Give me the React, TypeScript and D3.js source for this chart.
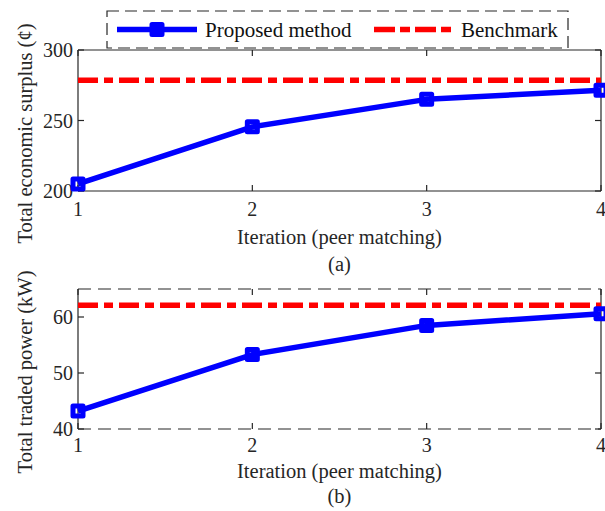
import React from 'react';
import * as d3 from 'd3';

// iteration index on the x axis
const iterations = [1, 2, 3, 4];

// (a) total economic surplus, cents
const surplusProposed = [205, 245.5, 265, 271.5];
const surplusBenchmark = 278.5;
const surplusTicks = [200, 250, 300];

// (b) total traded power, kW
const powerProposed = [43.2, 53.3, 58.5, 60.6];
const powerBenchmark = 62.1;
const powerTicks = [40, 50, 60];

const AXIS = '#262626';
const FONT = '"Liberation Serif", "Times New Roman", Times, serif';
const BLUE = '#0000ff';
const RED = '#ff0000';
const RED_DASH = '20 6 9 6';

const LEFT = 78;
const RIGHT = 601;
const TICK = 6;

interface PanelProps {
  top: number;
  bottom: number;
  domain: [number, number];
  ticks: number[];
  values: number[];
  benchmark: number;
  yLabel: string;
  caption: string;
  dashedFrame?: boolean;
  // vertical offsets of the texts under the axis
  tickGap: number;
  titleGap: number;
  captionGap: number;
}

const Panel: React.FC<PanelProps> = ({
  top, bottom, domain, ticks, values, benchmark, yLabel, caption, dashedFrame,
  tickGap, titleGap, captionGap
}) => {
  const x = d3.scaleLinear().domain([1, 4]).range([LEFT, RIGHT]);
  const y = d3.scaleLinear().domain(domain).range([bottom, top]);

  const line = d3.line<number>()
    .x((_d, i) => x(iterations[i]))
    .y(d => y(d));

  const hDash = dashedFrame ? '13 7' : undefined;

  return (
    <g>
      {/* frame */}
      <line x1={LEFT} x2={RIGHT} y1={top} y2={top} stroke={AXIS} strokeWidth={1.2} strokeDasharray={hDash} />
      <line x1={LEFT} x2={RIGHT} y1={bottom} y2={bottom} stroke={AXIS} strokeWidth={1.2} strokeDasharray={hDash} />
      <line x1={LEFT} x2={LEFT} y1={top} y2={bottom} stroke={AXIS} strokeWidth={1.2} />
      <line x1={RIGHT} x2={RIGHT} y1={top} y2={bottom} stroke={AXIS} strokeWidth={1.2} />

      {/* x ticks, inward on both edges */}
      {iterations.map(t => (
        <g key={'x' + t}>
          <line x1={x(t)} x2={x(t)} y1={bottom} y2={bottom - TICK} stroke={AXIS} strokeWidth={1.2} />
          <line x1={x(t)} x2={x(t)} y1={top} y2={top + TICK} stroke={AXIS} strokeWidth={1.2} />
          <text x={x(t)} y={bottom + tickGap} textAnchor="middle" fontSize={20} fontFamily={FONT} fill={AXIS}>{t}</text>
        </g>
      ))}

      {/* y ticks */}
      {ticks.map(t => (
        <g key={'y' + t}>
          <line x1={LEFT} x2={LEFT + TICK} y1={y(t)} y2={y(t)} stroke={AXIS} strokeWidth={1.2} />
          <line x1={RIGHT} x2={RIGHT - TICK} y1={y(t)} y2={y(t)} stroke={AXIS} strokeWidth={1.2} />
          <text x={LEFT - 5} y={y(t)} dy="0.35em" textAnchor="end" fontSize={20} fontFamily={FONT} fill={AXIS}>{t}</text>
        </g>
      ))}

      {/* labels */}
      <text
        transform={`translate(32,${(top + bottom) / 2 + 13}) rotate(-90)`}
        textAnchor="middle" fontSize={20.5} fontFamily={FONT} fill={AXIS}
      >{yLabel}</text>
      <text x={(LEFT + RIGHT) / 2} y={bottom + titleGap} textAnchor="middle" fontSize={20.5} fontFamily={FONT} fill={AXIS}>
        Iteration (peer matching)
      </text>
      <text x={(LEFT + RIGHT) / 2} y={bottom + captionGap} textAnchor="middle" fontSize={20.5} fontFamily={FONT} fill={AXIS}>
        {caption}
      </text>

      {/* benchmark */}
      <line x1={LEFT} x2={RIGHT} y1={y(benchmark)} y2={y(benchmark)} stroke={RED} strokeWidth={5.5} strokeDasharray={RED_DASH} />

      {/* proposed method */}
      <path d={line(values) || ''} fill="none" stroke={BLUE} strokeWidth={5.5} strokeLinejoin="round" />
      {values.map((v, i) => (
        <rect key={i} x={x(iterations[i]) - 5} y={y(v) - 5} width={10} height={10}
          fill="none" stroke={BLUE} strokeWidth={5} strokeLinejoin="round" />
      ))}
    </g>
  );
};

const Legend: React.FC = () => (
  <g>
    <rect x={107} y={11} width={461} height={37} fill="white" stroke={AXIS} strokeWidth={1.2} strokeDasharray="12 6" />
    <line x1={117} x2={197} y1={29.5} y2={29.5} stroke={BLUE} strokeWidth={5.5} />
    <rect x={152} y={24.5} width={10} height={10} fill="none" stroke={BLUE} strokeWidth={5} strokeLinejoin="round" />
    <text x={205} y={36.5} fontSize={21} fontFamily={FONT} fill={'#111'}>Proposed method</text>
    <line x1={374} x2={453} y1={29.5} y2={29.5} stroke={RED} strokeWidth={5.5} strokeDasharray="21 5 10 5" />
    <text x={461} y={36.5} fontSize={21} fontFamily={FONT} fill={'#111'}>Benchmark</text>
  </g>
);

export default function App() {
  return (
    <svg width={605} height={511} style={{ position: 'absolute', left: 0, top: 0, background: 'white' }}>
      <rect width={605} height={511} fill="white" />
      <Panel
        top={50} bottom={191}
        domain={[200, 300]} ticks={surplusTicks}
        values={surplusProposed} benchmark={surplusBenchmark}
        yLabel="Total economic surplus (¢)" caption="(a)"
        tickGap={25} titleGap={53} captionGap={80}
      />
      <Panel
        top={289} bottom={429}
        domain={[40, 65]} ticks={powerTicks}
        values={powerProposed} benchmark={powerBenchmark}
        yLabel="Total traded power (kW)" caption="(b)" dashedFrame
        tickGap={23} titleGap={49} captionGap={74}
      />
      <Legend />
    </svg>
  );
}
